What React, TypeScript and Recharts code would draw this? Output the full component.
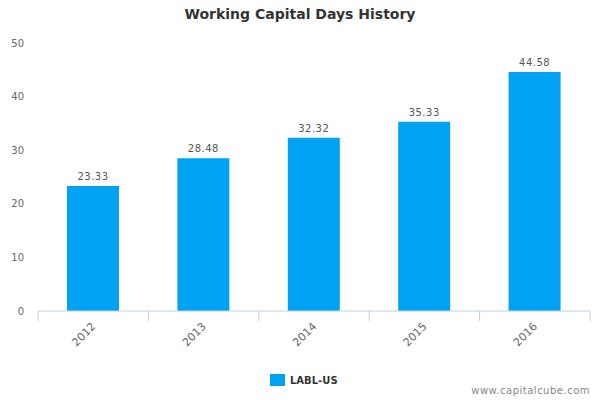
import React from 'react';
import { BarChart, Bar, XAxis, YAxis, LabelList } from 'recharts';

const years = ['2012', '2013', '2014', '2015', '2016'];
const values = [23.33, 28.48, 32.32, 35.33, 44.58];
const yTicks = [0, 10, 20, 30, 40, 50];
const seriesName = 'LABL-US';

const data = years.map((y, i) => ({ year: y, value: values[i] }));

const W = 600;
const H = 400;
const XH = 30;
const M = { top: 43, right: 10, left: 0, bottom: 89 - XH };
const YW = 38;
const band = (W - M.left - M.right - YW) / years.length;
const FONT = '"DejaVu Sans", Verdana, sans-serif';

const XTick = (props: any) => {
  const { x, y, payload, index } = props;
  const left = x - band / 2;
  return (
    <g>
      <line x1={left} y1={y - 8} x2={left} y2={y + 2} stroke="#C0D0E0" strokeWidth={1} />
      {index === years.length - 1 && (
        <line x1={x + band / 2} y1={y - 8} x2={x + band / 2} y2={y + 2} stroke="#C0D0E0" strokeWidth={1} />
      )}
      <text
        x={x + 1}
        y={y + 6}
        transform={`rotate(-45 ${x + 1} ${y + 6})`}
        textAnchor="end"
        dominantBaseline="middle"
        fill="#666"
        fontSize={11}
        fontFamily={FONT}
      >
        {payload.value}
      </text>
    </g>
  );
};

export default function App() {
  return (
    <div style={{ position: 'absolute', left: 0, top: 0, width: W, height: H, background: '#fff', fontFamily: FONT }}>
      <div
        style={{
          position: 'absolute',
          top: 6,
          width: W,
          textAlign: 'center',
          fontSize: 14,
          fontWeight: 'bold',
          color: '#333',
        }}
      >
        Working Capital Days History
      </div>
      <BarChart width={W} height={H} data={data} margin={M}>
        <XAxis
          dataKey="year"
          height={XH}
          axisLine={{ stroke: '#C0D0E0' }}
          tickLine={false}
          tick={<XTick />}
          interval={0}
        />
        <YAxis
          width={YW}
          domain={[0, 50]}
          ticks={yTicks}
          axisLine={false}
          tickLine={false}
          tickMargin={8}
          tick={{ fill: '#666', fontSize: 10, fontFamily: FONT }}
        />
        <Bar dataKey="value" fill="#00A2F1" barSize={52} isAnimationActive={false}>
          <LabelList
            dataKey="value"
            position="top"
            offset={6}
            formatter={(v: any) => Number(v).toFixed(2)}
            style={{ fill: '#555', fontSize: 10, fontFamily: FONT, letterSpacing: 0.5 }}
          />
        </Bar>
      </BarChart>
      <div style={{ position: 'absolute', left: 270, top: 374, display: 'flex', alignItems: 'center' }}>
        <div style={{ width: 15, height: 12, background: '#00A2F1', marginRight: 5 }} />
        <span style={{ fontSize: 10, fontWeight: 'bold', color: '#333' }}>{seriesName}</span>
      </div>
      <div style={{ position: 'absolute', right: 10, top: 385, fontSize: 10, color: '#888', letterSpacing: 0.5 }}>
        www.capitalcube.com
      </div>
    </div>
  );
}
